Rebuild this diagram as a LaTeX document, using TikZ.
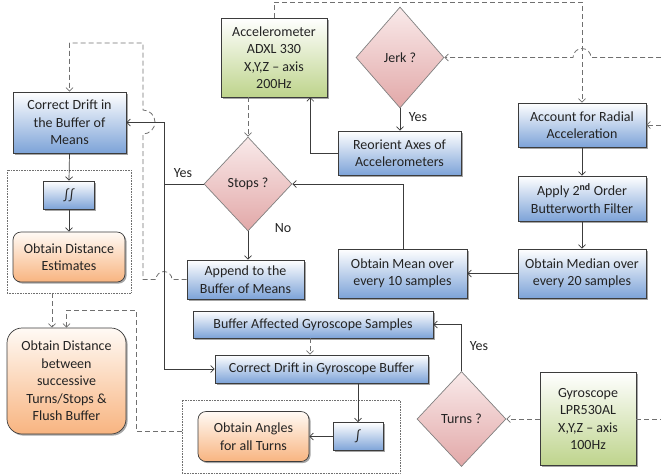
\documentclass[tikz,border=0pt]{standalone}
\usepackage{fontspec}
\setmainfont{Carlito}
\usetikzlibrary{arrows.meta,shapes.geometric,shadows,calc}
\definecolor{lineC}{RGB}{60,60,60}
\definecolor{dashC}{RGB}{112,112,112}
\definecolor{diaC}{RGB}{128,128,128}
\definecolor{blueB}{RGB}{125,163,216}
\definecolor{greenB}{RGB}{190,212,140}
\definecolor{orangeB}{RGB}{248,180,128}
\definecolor{orangeT}{RGB}{255,250,245}
\definecolor{pinkT}{RGB}{249,234,234}
\definecolor{pinkB}{RGB}{226,168,168}
\definecolor{txtC}{RGB}{35,35,35}
\begin{document}
\begin{tikzpicture}[x=1pt,y=-1pt,
  every node/.style={font=\fontsize{14}{17.5}\selectfont, text=txtC, align=center},
  >={Straight Barb[length=3.5pt,width=7pt]},
  shad/.style={drop shadow={shadow xshift=1.6pt,shadow yshift=-1.6pt,fill=black,opacity=0.35}},
  box/.style={draw=lineC, line width=0.7pt, inner sep=0pt, shad},
  bluebox/.style={box, top color=white, bottom color=blueB},
  greenbox/.style={box, top color=white, bottom color=greenB},
  orangebox/.style={box, rounded corners=8pt, top color=orangeT, bottom color=orangeB},
  decide/.style={shape=diamond, draw=diaC, line width=0.7pt, inner sep=0pt, top color=pinkT, bottom color=pinkB},
  dotbox/.style={draw=dashC, densely dotted, line width=0.6pt, inner sep=0pt},
  sl/.style={draw=lineC, line width=0.7pt},
  dl/.style={draw=dashC, line width=0.8pt, dash pattern=on 5pt off 3pt},
  lbl/.style={inner sep=0pt}
]
\useasboundingbox (0,0) rectangle (661,475);

% containers
\node[dotbox, minimum width=124pt, minimum height=123pt] (g1) at (69,231.5) {};
\node[dotbox, minimum width=218pt, minimum height=73pt] (g2) at (291,436.5) {};

% nodes
\node[greenbox, minimum width=106pt, minimum height=79pt] (acc) at (274,57.5) {Accelerometer\\ADXL 330\\X,Y,Z – axis\\200Hz};
\node[greenbox, minimum width=96pt, minimum height=93pt] (gyro) at (588,419) {Gyroscope\\LPR530AL\\X,Y,Z – axis\\100Hz};
\node[bluebox, minimum width=113pt, minimum height=61pt] (cdm) at (69.5,122.5) {Correct Drift in\\the Buffer of\\Means};
\node[bluebox, minimum width=51pt, minimum height=28pt] (ii) at (69,195) {∫∫};
\node[orangebox, minimum width=112pt, minimum height=50pt] (ode) at (69,257) {Obtain Distance\\Estimates};
\node[orangebox, rounded corners=15pt, minimum width=119pt, minimum height=106pt] (odb) at (66.5,381) {Obtain Distance\\between\\successive\\Turns/Stops \&\\Flush Buffer};
\node[decide, minimum width=88pt, minimum height=94pt] (stops) at (248,184) {Stops ?};
\node[bluebox, minimum width=117pt, minimum height=39pt] (app) at (245.5,279.5) {Append to the\\Buffer of Means};
\node[bluebox, minimum width=129pt, minimum height=49pt] (mean) at (402.5,273.5) {Obtain Mean over\\every 10 samples};
\node[bluebox, minimum width=128pt, minimum height=49pt] (median) at (582,273.5) {Obtain Median over\\every 20 samples};
\node[decide, minimum width=88pt, minimum height=101pt] (jerk) at (400,57.5) {Jerk ?};
\node[bluebox, minimum width=123pt, minimum height=44pt] (reo) at (399.5,153) {Reorient Axes of\\Accelerometers};
\node[bluebox, minimum width=128pt, minimum height=44pt] (acr) at (582,125) {Account for Radial\\Acceleration};
\node[bluebox, minimum width=128pt, minimum height=45pt] (but) at (582,198.5) {Apply 2\textsuperscript{\bfseries nd} Order\\Butterworth Filter};
\node[bluebox, minimum width=240pt, minimum height=27pt] (bag) at (313,324.5) {Buffer Affected Gyroscope Samples};
\node[bluebox, minimum width=213pt, minimum height=28pt] (cdg) at (321.5,369) {Correct Drift in Gyroscope Buffer};
\node[orangebox, minimum width=111pt, minimum height=50pt] (oa) at (253.5,436.5) {Obtain Angles\\for all Turns};
\node[bluebox, minimum width=50pt, minimum height=28pt] (i) at (358,436.5) {∫};
\node[decide, minimum width=89pt, minimum height=95pt] (turns) at (461.5,419) {Turns ?};

% free ends and bends
\coordinate (tA) at (582,2);
\coordinate (eJ) at (661,57.5);
\coordinate (eA) at (661,125);
\coordinate (eG) at (661,419);
\coordinate (j1) at (164,184);
\coordinate (c1) at (143,43);
\coordinate (c2) at (136,310);

% dashed connectors
\draw[dl,->] (acc.north) |- (tA) -- (acr.north);
\draw[dl,->] (eJ) -- (591,57.5) arc[start angle=0,end angle=180,radius=9pt] -- (jerk.east);
\draw[dl,->] (eA) -- (acr.east);
\draw[dl] (gyro.east) -- (eG);
\draw[dl,->] (gyro.west) -- (turns.east);
\draw[dl,->] (stops.north |- acc.south) -- (stops.north);
\draw[dl,->] (app.west) -- (172,279.5) arc[start angle=0,end angle=180,radius=8pt] -- (143,279.5) -- (143,134) arc[start angle=-90,end angle=90,radius=12pt] -- (c1) -| (cdm.north);
\draw[dl,->] ([xshift=-17pt]g1.south) -- ([xshift=-17pt]g1.south |- odb.north);
\draw[dl,->] ([yshift=5.5pt]g2.west) -| (c2) -| (odb.north);
\draw[dl,->] ([xshift=-3pt]bag.south) -- ([xshift=-3pt]bag.south |- cdg.north);

% solid connectors
\draw[sl,->] (reo.west) -| ([xshift=-17pt]acc.south east);
\draw[sl,->] (jerk.south) -- (jerk.south |- reo.north);
\draw[sl] (stops.west) -- (j1);
\draw[sl,->] (j1) |- (cdm.east);
\draw[sl,->] (j1) |- (cdg.west);
\draw[sl,->] (stops.south) -- (stops.south |- app.north);
\draw[sl,->] ([xshift=0.5pt]mean.north) |- (stops.east);
\draw[sl,->] (median.west) -- (mean.east);
\draw[sl,->] (acr.south) -- (but.north);
\draw[sl,->] (but.south) -- (median.north);
\draw[sl,->] (cdm.south) -- (ii.north);
\draw[sl,->] (ii.south) -- (ode.north);
\draw[sl,->] (turns.north) |- (bag.east);
\draw[sl,->] (i.north |- cdg.south) -- (i.north);
\draw[sl,->] (i.west) -- (oa.east);

% labels
\node[lbl] (yJ) at (418,117) {Yes};
\node[lbl] (yS) at (183,173) {Yes};
\node[lbl] (nS) at (283,228) {No};
\node[lbl] (yT) at (479,346) {Yes};
\end{tikzpicture}
\end{document}
